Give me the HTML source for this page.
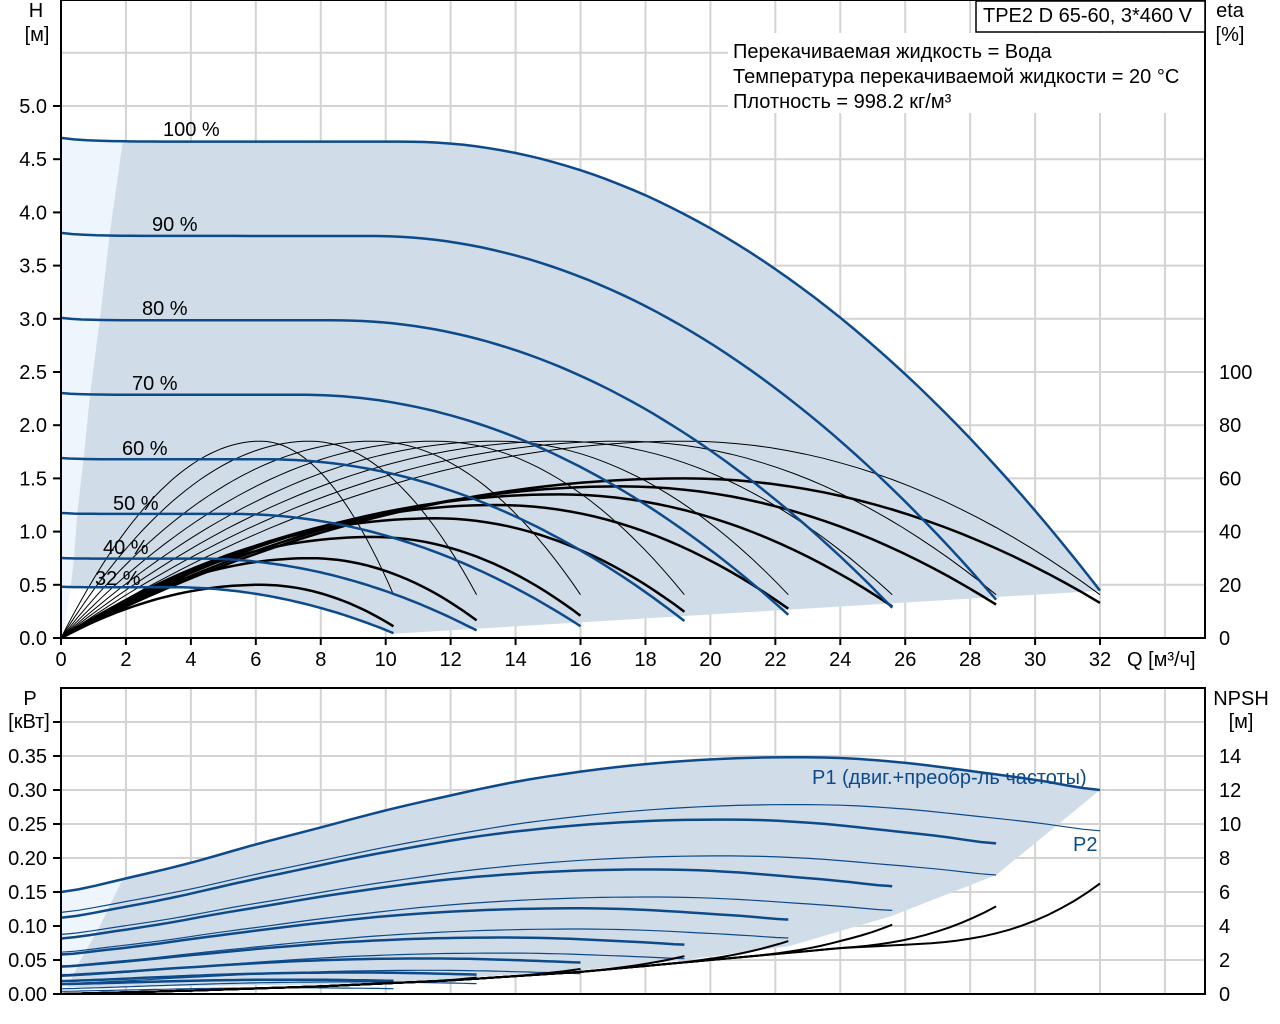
<!DOCTYPE html>
<html><head><meta charset="utf-8"><style>
body{margin:0;background:#fff;}
svg{display:block;font-family:"Liberation Sans",sans-serif;}
</style></head><body>
<svg id="s" width="1280" height="1024" xmlns="http://www.w3.org/2000/svg"></svg>
<script>
const S=document.getElementById('s');let h='';
const X=q=>61+q*32.47, Yh=v=>638-v*106.4, Ye=e=>638-e*2.66, Yp=p=>994-p*680, Yn=n=>994-n*17;
function interp(t,step,x){let n=t.length-1;let f=x/step;if(f<=0)return t[0];if(f>=n)return t[n]+(t[n]-t[n-1])*(f-n);
let i=Math.floor(f),u=f-i;let p0=t[Math.max(i-1,0)],p1=t[i],p2=t[i+1],p3=t[Math.min(i+2,n)];
return 0.5*((2*p1)+(-p0+p2)*u+(2*p0-5*p1+4*p2-p3)*u*u+(-p0+3*p1-3*p2+p3)*u*u*u);}
function lin(t,step,x){let n=t.length-1;let f=Math.min(Math.max(x/step,0),n-1e-9);let i=Math.floor(f),u=f-i;return t[i]+(t[i+1]-t[i])*u;}
function H100(q){let v=4.665+0.035*Math.exp(-q/0.8);if(q>10.6){let z=0.096*(q-10.6);v-=z*z;}return v;}
function F(u){if(u<0)return 0;if(u<0.6){let v=u/0.6;return 2*v-v*v;}let w=(u-0.6)/0.4;return 1-0.78*w*w;}
const P1=[.150,.170,.193,.220,.245,.270,.292,.312,.327,.338,.345,.348,.347,.340,.328,.315,.300];
const NB=[0,0.2,0.45,0.8,1.3,2.0,2.7,3.1,3.4];
const speeds=[1,.9,.8,.7,.6,.5,.4,.32];
const etaPk=[60,57,54,50,45,38,30,20];
function path(fn,a,b,n){let d='';for(let i=0;i<=n;i++){let q=a+(b-a)*i/n;let [x,y]=fn(q);d+=(i?'L':'M')+x.toFixed(1)+','+y.toFixed(1);}return d;}
function P(d,st,w,f){h+=`<path d="${d}" fill="${f||'none'}" stroke="${st}" stroke-width="${w}"/>`;}
const H=(s,q)=>s*s*H100(q/s);
let g='';
for(let q=2;q<=34;q+=2){g+=`<line x1="${X(q)}" y1="0" x2="${X(q)}" y2="638" stroke="#d3d3d3" stroke-width="2"/>`;g+=`<line x1="${X(q)}" y1="688" x2="${X(q)}" y2="994" stroke="#d3d3d3" stroke-width="2"/>`;}
for(let v=0.5;v<=6;v+=0.5)g+=`<line x1="61" y1="${Yh(v)}" x2="1205" y2="${Yh(v)}" stroke="#d3d3d3" stroke-width="2"/>`;
for(let p=0.05;p<=0.41;p+=0.05)g+=`<line x1="61" y1="${Yp(p)}" x2="1205" y2="${Yp(p)}" stroke="#d3d3d3" stroke-width="2"/>`;
h+=g;
const lb=[[1.9,4.66],[1.5,3.8],[1.2,3.0],[0.9,2.3],[0.7,1.7],[0.5,1.17],[0.4,0.75],[0.3,0.48],[0.05,0.02]];
let d='M'+X(0)+','+Yh(4.7);for(let i=0;i<=10;i++){let q=1.9*i/10;d+='L'+X(q)+','+Yh(H(1,q));}
lb.forEach(p=>d+='L'+X(p[0])+','+Yh(p[1]));d+='L'+X(0)+','+Yh(0)+'Z';P(d,'none',0,'#eef5fc');
d=path(q=>[X(q),Yh(H(1,q))],1.9,32,80);d+='L'+X(10.24)+','+Yh(0.04);
for(let i=0;i<=40;i++){let q=10.24-(10.24-0.3)*i/40;d+='L'+X(q)+','+Yh(H(.32,q));}
lb.slice().reverse().forEach(p=>d+='L'+X(p[0])+','+Yh(p[1]));d+='Z';P(d,'none',0,'#d0dce8');
speeds.forEach(s=>P(path(q=>[X(q),Ye(74*F(q/(32*s)))],0,32*s,60),'#000',1));
speeds.forEach((s,i)=>P(path(q=>[X(q),Ye(etaPk[i]*F(q/(32*s)))],0,32*s,60),'#000',2.5));
speeds.forEach(s=>P(path(q=>[X(q),Yh(H(s,q))],0,32*s,80),'#0d4a8a',2.5));
d='M'+X(0)+','+Yp(0.15);for(let i=0;i<=10;i++){let q=1.9*i/10;d+='L'+X(q)+','+Yp(interp(P1,2,q));}
d+='L'+X(1.2)+','+Yp(0.1)+'L'+X(0.6)+','+Yp(0.05)+'L'+X(0.2)+','+Yp(0.01)+'L'+X(0)+','+Yp(0.005)+'Z';P(d,'none',0,'#eef5fc');
d=path(q=>[X(q),Yp(interp(P1,2,q))],1.9,32,80);
[[28.8,.175],[25.6,.115],[22.4,.07],[19.2,.05],[16,.035],[12.8,.025],[10.24,.015],[0.2,0.01],[0.6,0.05],[1.2,0.1]].forEach(p=>d+='L'+X(p[0])+','+Yp(p[1]));d+='Z';P(d,'none',0,'#d0dce8');
speeds.forEach(s=>P(path(q=>[X(q),Yp(s*s*s*0.8*interp(P1,2,q/s))],0,32*s,60),'#0d4a8a',1.2));
speeds.forEach(s=>P(path(q=>[X(q),Yp(0.01+s*s*s*(interp(P1,2,q/s)-0.01))],0,32*s,60),'#0d4a8a',2.5));
function NP(s,q){let u=q/(32*s);let r=u>0.82?3.1*Math.pow(s,4.2)*Math.pow((u-0.82)/0.18,2.5):0;return lin(NB,4,q)+r;}
speeds.forEach(s=>P(path(q=>[X(q),Yn(NP(s,q))],0,32*s,80),'#000',2));
h+=`<path d="M61,0V638H1205V0" fill="none" stroke="#000" stroke-width="2"/><line x1="61" y1="0" x2="1205" y2="0" stroke="#000" stroke-width="2"/>`;
h+=`<rect x="61" y="688" width="1144" height="306" fill="none" stroke="#000" stroke-width="2"/>`;
h+=`<rect x="728" y="33" width="476" height="80" fill="#fff"/><rect x="976" y="1" width="229" height="31" fill="#fff" stroke="#000" stroke-width="1.5"/>`;
h+=`<text x="983" y="22" font-size="20">TPE2 D 65-60, 3*460 V</text>`;
h+=`<text x="733" y="58" font-size="20">Перекачиваемая жидкость = Вода</text><text x="733" y="83" font-size="20">Температура перекачиваемой жидкости = 20 °C</text><text x="733" y="108" font-size="20">Плотность = 998.2 кг/м³</text>`;
let t='';const fs=20;
for(let v=0;v<=5;v+=0.5){t+=`<line x1="53" y1="${Yh(v)}" x2="61" y2="${Yh(v)}" stroke="#000" stroke-width="2"/><text x="47" y="${Yh(v)+7}" font-size="${fs}" text-anchor="end">${v.toFixed(1)}</text>`;}
for(let q=0;q<=32;q+=2){t+=`<line x1="${X(q)}" y1="638" x2="${X(q)}" y2="645" stroke="#000" stroke-width="2"/><text x="${X(q)}" y="666" font-size="${fs}" text-anchor="middle">${q}</text>`;}
t+=`<text x="1127" y="666" font-size="${fs}">Q [м³/ч]</text>`;
for(let e=0;e<=100;e+=20)t+=`<text x="1219" y="${Ye(e)+7}" font-size="${fs}">${e}</text>`;
t+=`<text x="36" y="17" font-size="${fs}" text-anchor="middle">H</text><text x="37" y="41" font-size="${fs}" text-anchor="middle">[м]</text>`;
t+=`<text x="1230" y="17" font-size="${fs}" text-anchor="middle">eta</text><text x="1230" y="41" font-size="${fs}" text-anchor="middle">[%]</text>`;
for(let i=0;i<=7;i++){let p=i*0.05;t+=`<line x1="53" y1="${Yp(p)}" x2="61" y2="${Yp(p)}" stroke="#000" stroke-width="2"/><text x="47" y="${Yp(p)+7}" font-size="${fs}" text-anchor="end">${p.toFixed(2)}</text>`;
t+=`<text x="1219" y="${Yn(i*2)+7}" font-size="${fs}">${i*2}</text>`;}
t+=`<line x1="53" y1="${Yp(0.4)}" x2="61" y2="${Yp(0.4)}" stroke="#000" stroke-width="2"/>`;
t+=`<text x="30" y="705" font-size="${fs}" text-anchor="middle">P</text><text x="29" y="728" font-size="${fs}" text-anchor="middle">[кВт]</text>`;
t+=`<text x="1241" y="705" font-size="${fs}" text-anchor="middle">NPSH</text><text x="1241" y="728" font-size="${fs}" text-anchor="middle">[м]</text>`;
[['100 %',163,136],['90 %',152,231],['80 %',142,315],['70 %',132,390],['60 %',122,455],['50 %',113,510],['40 %',103,554],['32 %',95,585]].forEach(l=>t+=`<text x="${l[1]}" y="${l[2]}" font-size="${fs}">${l[0]}</text>`);
t+=`<text x="812" y="784" font-size="${fs}" fill="#0d4a8a">P1 (двиг.+преобр-ль частоты)</text><text x="1073" y="851" font-size="${fs}" fill="#0d4a8a">P2</text>`;
h+=t;S.innerHTML=h;
</script>
</body></html>
